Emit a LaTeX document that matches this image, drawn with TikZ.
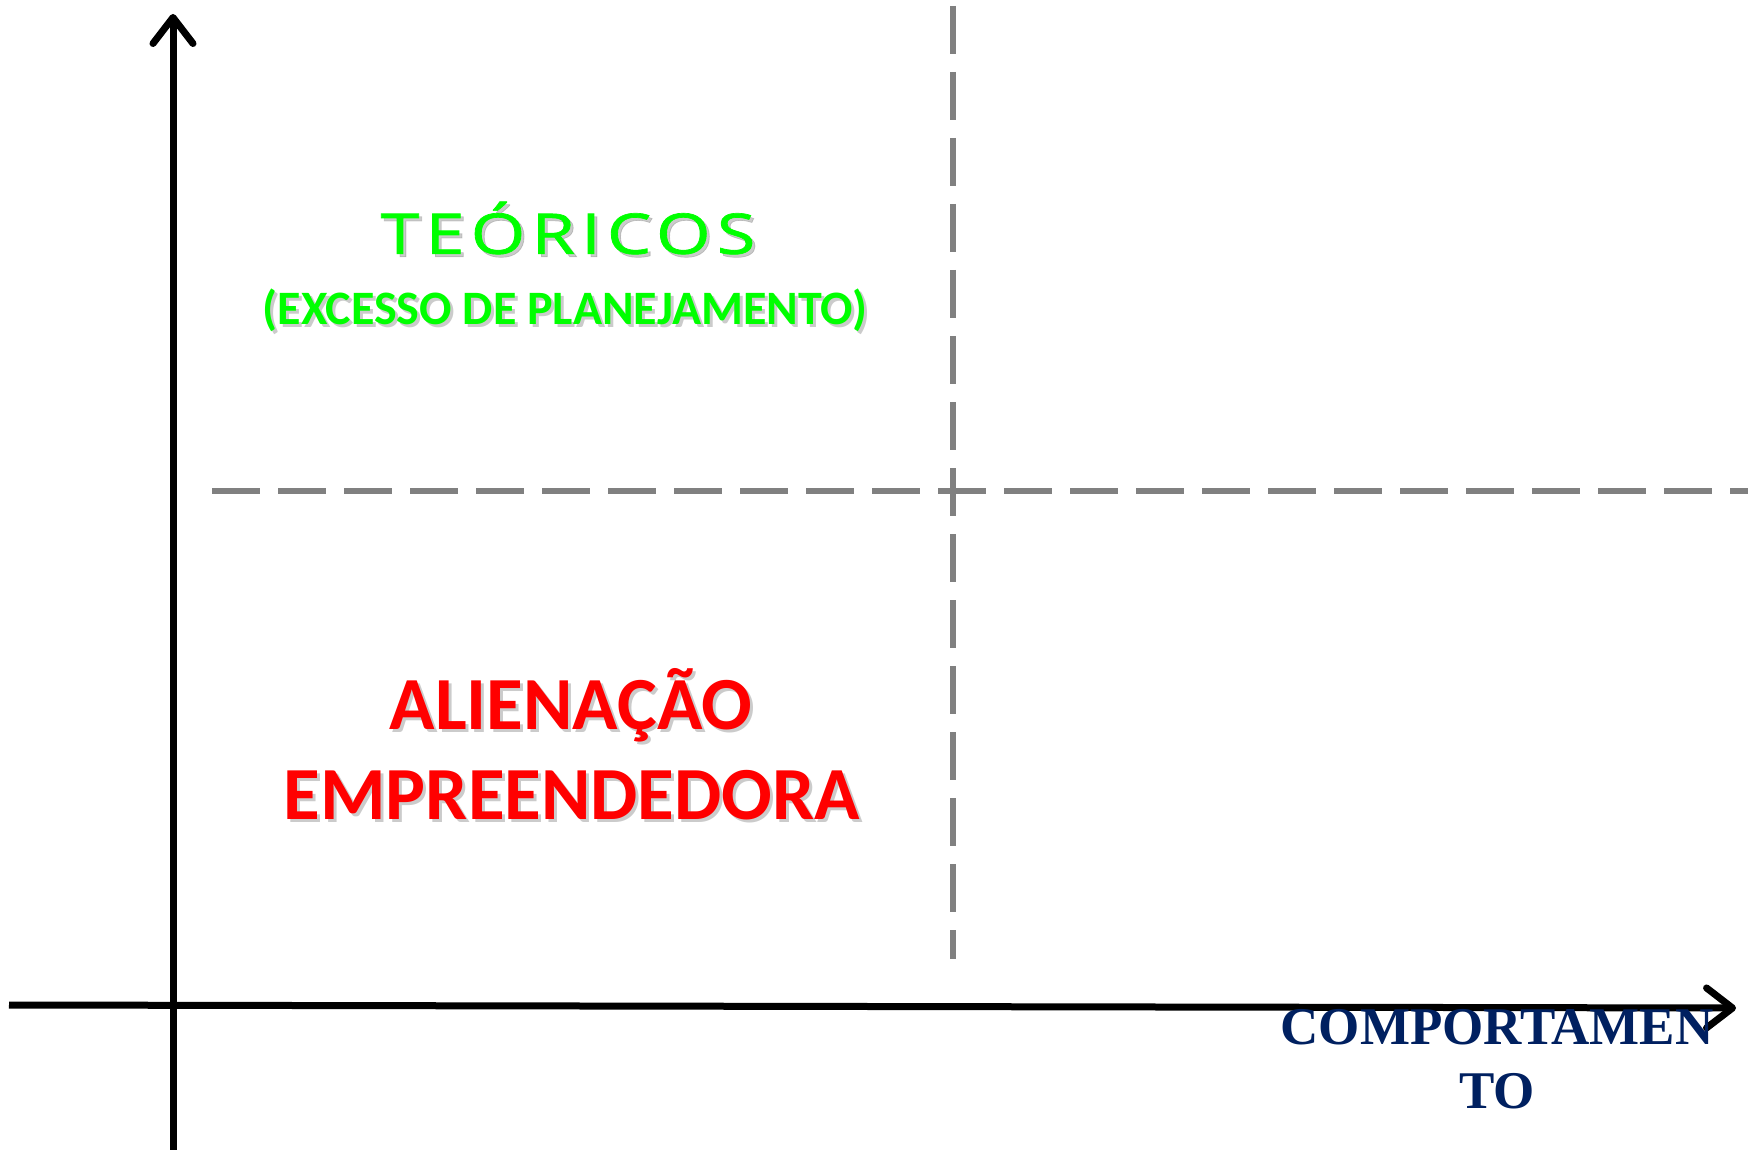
\documentclass[tikz,border=0pt]{standalone}
\usepackage{fontspec}
\setmainfont{Carlito}
\newfontfamily\hand[LetterSpace=9,FakeBold=1.2]{Open Sans}
\newfontfamily\serifb{Liberation Serif}
\usetikzlibrary{arrows.meta}
\definecolor{navy}{HTML}{002060}
\definecolor{lgreen}{HTML}{00FF00}
\definecolor{dgray}{HTML}{808080}
\tikzset{
  axis/.style={line width=7pt, -{Straight Barb[length=26pt,width=40pt,line cap=round,line join=round]}},
  guide/.style={line width=6pt, dgray, dash pattern=on 48pt off 18pt},
  shadowed/.style={text=black!45, opacity=0.45},
}
\begin{document}
\begin{tikzpicture}[x=1pt,y=-1pt]
\useasboundingbox (0,0) rectangle (1748,1150);
% guides
\coordinate (vtop) at (953,6);
\coordinate (vbot) at (953,959);
\coordinate (hl) at (212,491);
\coordinate (hr) at (1748,491);
\draw[guide] (vtop) -- (vbot);
\draw[guide] (hl) -- (hr);
% axes
\coordinate (yb) at (173,1150);
\coordinate (yt) at (173,14);
\coordinate (xl) at (9,1005);
\coordinate (xr) at (1736,1008);
\draw[axis] (yb) -- (yt);
\draw[axis] (xl) -- (xr);
% texts
\node[shadowed, font=\hand\fontsize{56}{60}\selectfont] at (571,231) {\scalebox{1.25}[1]{TEÓRICOS}};
\node[text=lgreen, font=\hand\fontsize{56}{60}\selectfont] (teo) at (568,228) {\scalebox{1.25}[1]{TEÓRICOS}};
\node[shadowed, font=\bfseries\fontsize{48}{56}\selectfont] at (568,313) {(EXCESSO DE PLANEJAMENTO)};
\node[text=lgreen, font=\bfseries\fontsize{48}{56}\selectfont] (exc) at (565,310) {(EXCESSO DE PLANEJAMENTO)};
\node[shadowed, font=\bfseries\fontsize{75}{80}\selectfont] at (574,708) {ALIENAÇÃO};
\node[text=red, font=\bfseries\fontsize{75}{80}\selectfont] (ali) at (571,705) {ALIENAÇÃO};
\node[shadowed, font=\bfseries\fontsize{75}{80}\selectfont] at (575,798) {EMPREENDEDORA};
\node[text=red, font=\bfseries\fontsize{75}{80}\selectfont] (emp) at (572,795) {EMPREENDEDORA};
\node[text=navy, font=\serifb\bfseries\fontsize{53}{64}\selectfont, align=center] (comp) at (1497,1059) {COMPORTAMEN\\TO};
\end{tikzpicture}
\end{document}
